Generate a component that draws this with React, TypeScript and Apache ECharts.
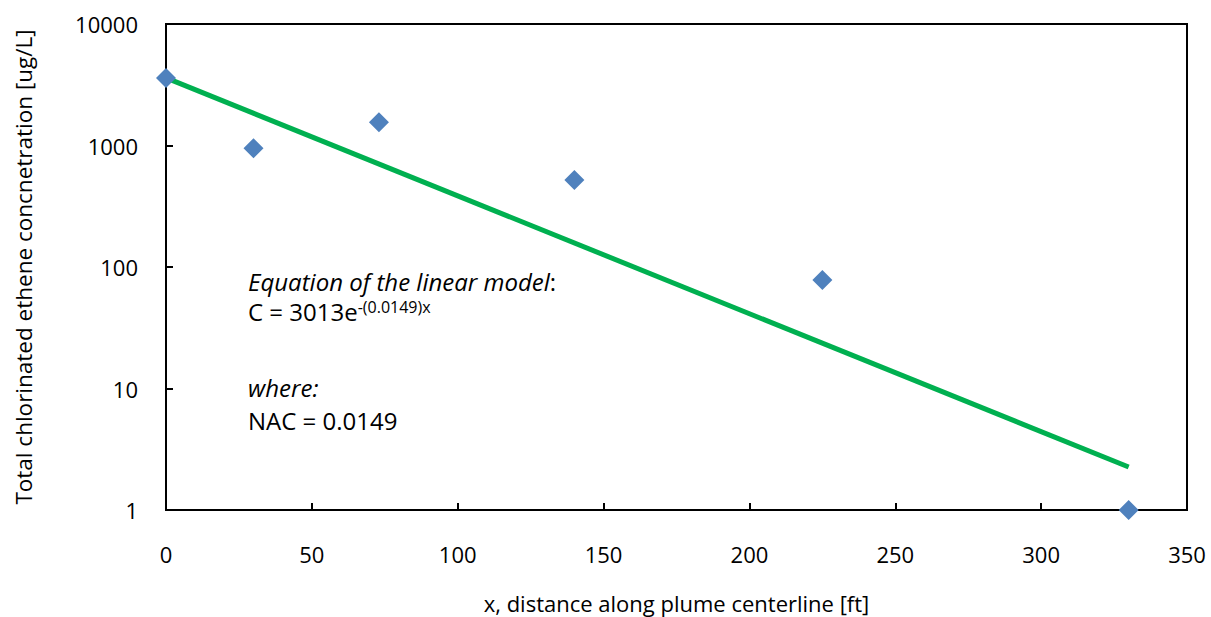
import React, { useEffect, useRef } from "react";
import * as echarts from "echarts";

const distances = [0, 30, 73, 140, 225, 330];
const concentrations = [3600, 950, 1550, 520, 78, 1];
const fitX = [0, 330];
const fitY = [3600, 2.26];
const xTicks = [0, 50, 100, 150, 200, 250, 300, 350];
const yTicks = [1, 10, 100, 1000, 10000];

const FONT = "'Open Sans', sans-serif";

export default function App() {
  const ref = useRef<HTMLDivElement>(null);
  useEffect(() => {
    if (!ref.current) return;
    const chart = echarts.init(ref.current, undefined, { renderer: "svg" });
    chart.setOption({
      animation: false,
      backgroundColor: "#ffffff",
      textStyle: { fontFamily: FONT },
      grid: {
        left: 166,
        top: 24,
        width: 1021,
        height: 486,
        show: true,
        borderColor: "#000",
        borderWidth: 2,
        containLabel: false,
        outerBoundsMode: "none",
      },
      xAxis: {
        type: "value",
        min: xTicks[0],
        max: xTicks[xTicks.length - 1],
        interval: 50,
        name: "x, distance along plume centerline [ft]",
        nameLocation: "middle",
        nameGap: 82,
        nameTextStyle: { fontFamily: FONT, fontSize: 22, color: "#000", lineHeight: 22 },
        axisLine: { show: true, onZero: false, lineStyle: { color: "#000", width: 2 } },
        axisTick: { show: true, inside: true, length: 7, lineStyle: { color: "#000", width: 2 } },
        axisLabel: { fontFamily: FONT, fontSize: 22, color: "#000", margin: 33 },
        splitLine: { show: false },
      },
      yAxis: {
        type: "log",
        logBase: 10,
        min: yTicks[0],
        max: yTicks[yTicks.length - 1],
        name: "Total chlorinated ethene concnetration [ug/L]",
        nameLocation: "middle",
        nameGap: 131,
        nameTextStyle: { fontFamily: FONT, fontSize: 22.5, color: "#000" },
        axisLine: { show: true, lineStyle: { color: "#000", width: 2 } },
        axisTick: { show: true, inside: true, length: 7, lineStyle: { color: "#000", width: 2 } },
        axisLabel: {
          fontFamily: FONT,
          fontSize: 22,
          color: "#000",
          margin: 28,
          formatter: (v: number) => String(Math.round(v)),
        },
        splitLine: { show: false },
        minorTick: { show: false },
      },
      series: [
        {
          type: "line",
          data: fitX.map((x, i) => [x, fitY[i]]),
          showSymbol: false,
          symbol: "none",
          lineStyle: { color: "#00B050", width: 5 },
          z: 2,
        },
        {
          type: "scatter",
          data: distances.map((x, i) => [x, concentrations[i]]),
          symbol: "diamond",
          symbolSize: 20,
          itemStyle: { color: "#4F81BD", opacity: 1 },
          z: 3,
        },
      ],
      graphic: [
        {
          type: "text",
          x: 248,
          y: 281,
          style: {
            text: "{i|Equation of the linear model}{n|:}",
            verticalAlign: "middle",
            rich: {
              i: { fontFamily: FONT, fontSize: 24, fontStyle: "italic", fill: "#000", lineHeight: 24 },
              n: { fontFamily: FONT, fontSize: 24, fill: "#000", lineHeight: 24 },
            },
          },
        },
        {
          type: "text",
          x: 248,
          y: 311,
          style: {
            text: "{n|C = 3013e}{s|-(0.0149)x}",
            verticalAlign: "middle",
            rich: {
              n: { fontFamily: FONT, fontSize: 24, fill: "#000", lineHeight: 24 },
              s: { fontFamily: FONT, fontSize: 16, fill: "#000", verticalAlign: "top", lineHeight: 16 },
            },
          },
        },
        {
          type: "text",
          x: 248,
          y: 387,
          style: { text: "where:", verticalAlign: "middle", fontFamily: FONT, fontSize: 24, lineHeight: 24, fontStyle: "italic", fill: "#000" },
        },
        {
          type: "text",
          x: 248,
          y: 420,
          style: { text: "NAC = 0.0149", verticalAlign: "middle", fontFamily: FONT, fontSize: 24, lineHeight: 24, fill: "#000" },
        },
      ],
    });
    return () => chart.dispose();
  }, []);
  return (
    <div
      ref={ref}
      style={{ position: "fixed", left: 0, top: 0, width: 1211, height: 617, background: "#fff" }}
    />
  );
}
